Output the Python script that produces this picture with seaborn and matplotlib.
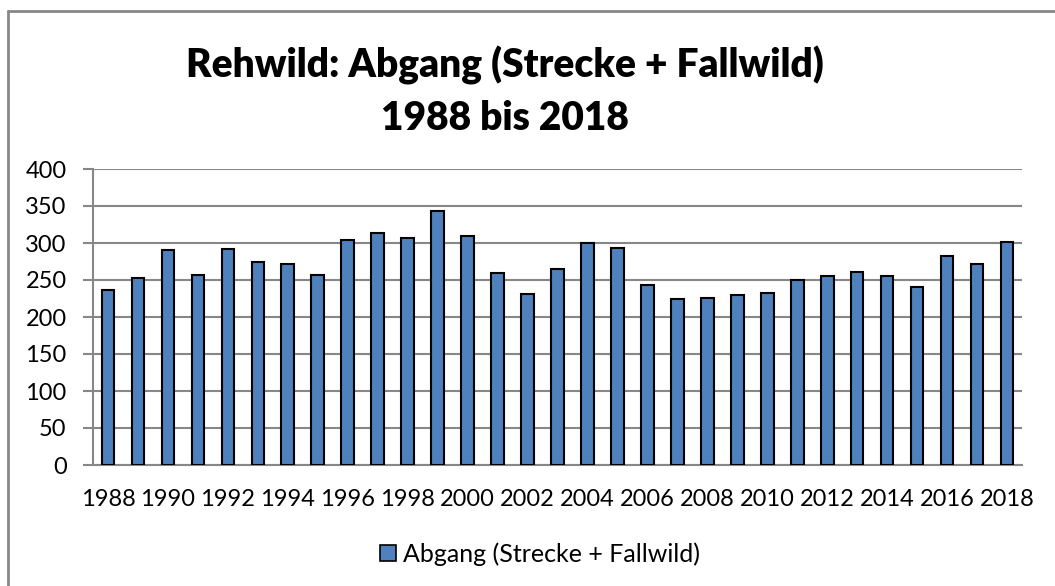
import numpy as np
import pandas as pd
import seaborn as sns
import matplotlib.pyplot as plt
from matplotlib.patches import Patch
from matplotlib.lines import Line2D

# data
years = list(range(1988, 2019))
abgang = [236, 253, 291, 257, 292, 275, 272, 257, 304, 314, 307, 343, 309, 259, 231, 265,
          300, 293, 243, 225, 226, 230, 233, 250, 256, 261, 255, 241, 282, 272, 301]
yticks = [0, 50, 100, 150, 200, 250, 300, 350, 400]
series_name = "Abgang (Strecke + Fallwild)"
title_1 = "Rehwild: Abgang (Strecke + Fallwild)"
title_2 = "1988 bis 2018"

df = pd.DataFrame({"Jahr": years, "Abgang": abgang})

sns.set_style("white")
plt.rcParams['font.family'] = ['Lato', 'DejaVu Sans']
plt.rcParams['text.color'] = 'black'
plt.rcParams['xtick.labelcolor'] = 'black'
plt.rcParams['ytick.labelcolor'] = 'black'

bar_col = "#4F81BD"
grey = "#878787"

fig = plt.figure(figsize=(10.55, 5.86), dpi=100)
ax = fig.add_axes([93/1055, 1-465/586, (1022-93)/1055, (465-169)/586])

sns.barplot(data=df, x="Jahr", y="Abgang", color=bar_col, saturation=1, width=0.42,
            edgecolor="black", linewidth=1.5, ax=ax, zorder=3)

ax.set_ylim(0, 400)
ax.set_xlim(-0.5, len(years) - 0.5)
ax.set_yticks(yticks)
ax.yaxis.grid(True, color=grey, linewidth=1.5, zorder=0)
ax.set_axisbelow(True)

# x labels every second year, ticks between the categories
idx = np.arange(0, len(years), 2)
ax.set_xticks(idx)
ax.set_xticklabels([str(years[i]) for i in idx])
ax.set_xticks(np.arange(-0.5, len(years), 1), minor=True)
ax.tick_params(axis="x", which="major", length=0, pad=17, labelsize=17)
ax.tick_params(axis="x", which="minor", length=7, width=1.5, color=grey, direction="out")
ax.tick_params(axis="y", length=7, width=1.5, color=grey, pad=12, labelsize=17, left=True)

ax.set_xlabel("")
ax.set_ylabel("")
for s in ["top", "right"]:
    ax.spines[s].set_visible(False)
for s in ["left", "bottom"]:
    ax.spines[s].set_color(grey)
    ax.spines[s].set_linewidth(1.5)

# titles
fig.text(505/1055, 1-77/586, title_1, ha="center", va="baseline", fontsize=28, fontweight="heavy")
fig.text(505/1055, 1-130/586, title_2, ha="center", va="baseline", fontsize=28, fontweight="heavy")

# legend
handle = Patch(facecolor=bar_col, edgecolor="black", linewidth=1.2, label=series_name)
fig.legend(handles=[handle], loc="center", bbox_to_anchor=(540/1055, 1-554/586), frameon=False,
           fontsize=18, handlelength=0.65, handleheight=0.65, handletextpad=0.3)

# chart border (only top and left visible)
fig.add_artist(Line2D([8/1055, 8/1055], [0, 1-11/586], color=grey, linewidth=2))
fig.add_artist(Line2D([8/1055, 1], [1-11/586, 1-11/586], color=grey, linewidth=2))

plt.savefig("out.png", dpi=100)
